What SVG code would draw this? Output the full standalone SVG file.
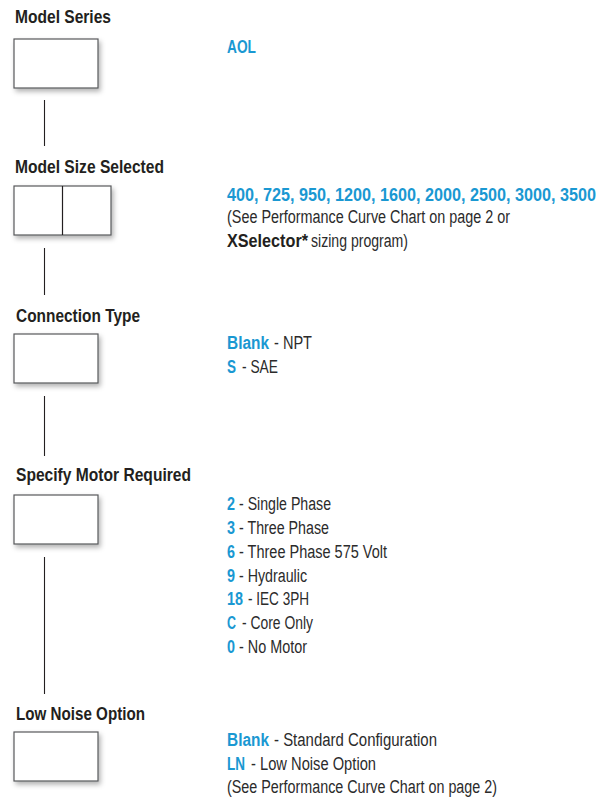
<svg xmlns="http://www.w3.org/2000/svg" width="601" height="799" viewBox="0 0 601 799">
<defs>
<filter id="sh" x="-20%" y="-20%" width="150%" height="160%">
<feDropShadow dx="2" dy="3" stdDeviation="2.5" flood-color="#000" flood-opacity="0.3"/>
</filter>
<style>
.h{font-family:"Liberation Sans",Arial,sans-serif;font-weight:bold;font-size:18px;fill:#231f20}
.b{font-family:"Liberation Sans",Arial,sans-serif;font-weight:bold;font-size:18px;fill:#1a98d2}
.k{font-family:"Liberation Sans",Arial,sans-serif;font-weight:bold;font-size:18px;fill:#231f20}
.t{font-family:"Liberation Sans",Arial,sans-serif;font-size:18px;fill:#2b2b2b}
.box{fill:#fff;stroke:#58595b;stroke-width:1.2;filter:url(#sh)}
.ln{stroke:#231f20;stroke-width:1.1;fill:none}
</style>
</defs>
<rect width="601" height="799" fill="#fff"/>

<g id="connectors">
<line class="ln" x1="44.5" y1="100" x2="44.5" y2="146"/>
<line class="ln" x1="44.5" y1="248" x2="44.5" y2="295"/>
<line class="ln" x1="44.5" y1="396" x2="44.5" y2="456"/>
<line class="ln" x1="44.5" y1="557" x2="44.5" y2="694"/>
</g>

<g id="model-series">
<text class="h" x="15" y="23" textLength="96" lengthAdjust="spacingAndGlyphs">Model Series</text>
<rect class="box" x="14" y="39" width="84" height="49"/>
<text class="b" x="227" y="53" textLength="29" lengthAdjust="spacingAndGlyphs">AOL</text>
</g>

<g id="model-size">
<text class="h" x="15" y="173" textLength="149" lengthAdjust="spacingAndGlyphs">Model Size Selected</text>
<rect class="box" x="14" y="186" width="97" height="49"/>
<line x1="62.5" y1="186" x2="62.5" y2="235" stroke="#231f20" stroke-width="1.2"/>
<text class="b" transform="translate(227,201) scale(0.9,1)" x="0" y="0" textLength="410" lengthAdjust="spacingAndGlyphs">400, 725, 950, 1200, 1600, 2000, 2500, 3000, 3500</text>
<text class="t" x="227" y="223" textLength="283" lengthAdjust="spacingAndGlyphs">(See Performance Curve Chart on page 2 or</text>
<text class="k" x="227" y="247" textLength="81" lengthAdjust="spacingAndGlyphs">XSelector*</text>
<text class="t" x="311" y="247" textLength="97" lengthAdjust="spacingAndGlyphs">sizing program)</text>
</g>

<g id="connection-type">
<text class="h" x="16" y="322" textLength="124" lengthAdjust="spacingAndGlyphs">Connection Type</text>
<rect class="box" x="14" y="334" width="84" height="49"/>
<text class="b" x="227" y="349" textLength="42" lengthAdjust="spacingAndGlyphs">Blank</text>
<text class="t" x="274" y="349" textLength="38" lengthAdjust="spacingAndGlyphs">- NPT</text>
<text class="b" x="227" y="373" textLength="9" lengthAdjust="spacingAndGlyphs">S</text>
<text class="t" x="242" y="373" textLength="36" lengthAdjust="spacingAndGlyphs">- SAE</text>
</g>

<g id="motor">
<text class="h" x="16" y="481" textLength="175" lengthAdjust="spacingAndGlyphs">Specify Motor Required</text>
<rect class="box" x="14" y="495" width="84" height="49"/>
<text class="b" x="227" y="510" textLength="8" lengthAdjust="spacingAndGlyphs">2</text>
<text class="t" x="239" y="510" textLength="92" lengthAdjust="spacingAndGlyphs">- Single Phase</text>
<text class="b" x="227" y="534" textLength="8" lengthAdjust="spacingAndGlyphs">3</text>
<text class="t" x="239" y="534" textLength="90" lengthAdjust="spacingAndGlyphs">- Three Phase</text>
<text class="b" x="227" y="558" textLength="8" lengthAdjust="spacingAndGlyphs">6</text>
<text class="t" x="239" y="558" textLength="148" lengthAdjust="spacingAndGlyphs">- Three Phase 575 Volt</text>
<text class="b" x="227" y="582" textLength="8" lengthAdjust="spacingAndGlyphs">9</text>
<text class="t" x="239" y="582" textLength="68" lengthAdjust="spacingAndGlyphs">- Hydraulic</text>
<text class="b" x="227" y="605" textLength="16" lengthAdjust="spacingAndGlyphs">18</text>
<text class="t" x="248" y="605" textLength="61" lengthAdjust="spacingAndGlyphs">- IEC 3PH</text>
<text class="b" x="227" y="629" textLength="9" lengthAdjust="spacingAndGlyphs">C</text>
<text class="t" x="242" y="629" textLength="71" lengthAdjust="spacingAndGlyphs">- Core Only</text>
<text class="b" x="227" y="653" textLength="8" lengthAdjust="spacingAndGlyphs">0</text>
<text class="t" x="239" y="653" textLength="68" lengthAdjust="spacingAndGlyphs">- No Motor</text>
</g>

<g id="low-noise">
<text class="h" x="16" y="720" textLength="129" lengthAdjust="spacingAndGlyphs">Low Noise Option</text>
<rect class="box" x="14" y="732" width="84" height="49"/>
<text class="b" x="227" y="746" textLength="42" lengthAdjust="spacingAndGlyphs">Blank</text>
<text class="t" x="274" y="746" textLength="163" lengthAdjust="spacingAndGlyphs">- Standard Configuration</text>
<text class="b" x="227" y="770" textLength="18" lengthAdjust="spacingAndGlyphs">LN</text>
<text class="t" x="251" y="770" textLength="125" lengthAdjust="spacingAndGlyphs">- Low Noise Option</text>
<text class="t" x="227" y="793" textLength="270" lengthAdjust="spacingAndGlyphs">(See Performance Curve Chart on page 2)</text>
</g>
</svg>
